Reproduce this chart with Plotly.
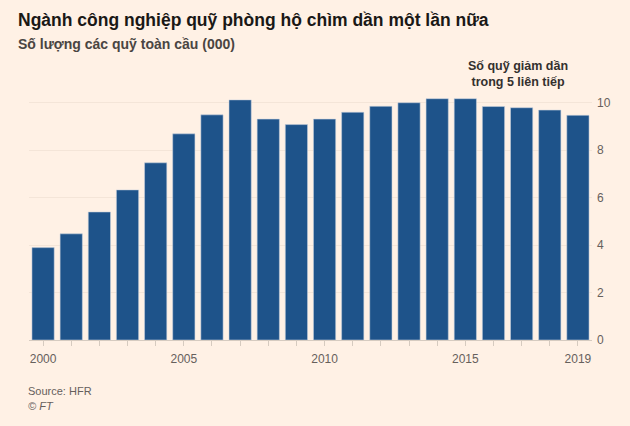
import plotly.graph_objects as go

YEARS = list(range(2000, 2020))
FUNDS_000 = [3.89, 4.47, 5.39, 6.32, 7.46, 8.68, 9.48, 10.11, 9.30, 9.07,
             9.30, 9.59, 9.84, 9.99, 10.16, 10.16, 9.83, 9.78, 9.68, 9.46]
X_LABELED = [2000, 2005, 2010, 2015, 2019]
Y_TICKS = [0, 2, 4, 6, 8, 10]

BG = "#fff1e5"
BAR = "#1e538a"
GRID = "#f4e5d8"
TXT = "#33302e"
MUTED = "#66605c"
FONT = "Liberation Sans, Arial, sans-serif"

fig = go.Figure(go.Bar(
    x=YEARS, y=FUNDS_000, marker_color=BAR,
    marker_line=dict(color="rgba(200,210,222,0.55)", width=1),
    hovertemplate="%{x}: %{y}<extra></extra>"))

fig.update_layout(
    width=630, height=426, paper_bgcolor=BG, plot_bgcolor=BG,
    font=dict(family=FONT, color=MUTED, size=12),
    margin=dict(t=93, b=86, l=29, r=38), bargap=0.21, showlegend=False,
    xaxis=dict(range=[1999.5, 2019.5], tickvals=YEARS,
               ticktext=[str(y) if y in X_LABELED else "" for y in YEARS],
               ticks="outside", ticklen=5, tickcolor="#d6cbc0",
               showline=True, linecolor="#d6cbc0", linewidth=1,
               showgrid=False, zeroline=False, ticklabelstandoff=3,
               tickfont=dict(size=12, color=MUTED)),
    yaxis=dict(range=[0, 10.4], side="right", tickvals=Y_TICKS,
               gridcolor=GRID, gridwidth=1, zeroline=False, showline=False,
               ticks="", ticklabelstandoff=4, tickfont=dict(size=12, color=MUTED)),
)

# text blocks placed relative to the plot area edges (plot top = 93px, left = 29px)
fig.add_annotation(text="<b>Ngành công nghiệp quỹ phòng hộ chìm dần một lần nữa</b>",
                   xref="paper", yref="paper", x=0, y=1, xanchor="left", yanchor="middle",
                   xshift=-13, yshift=93 - 20, showarrow=False,
                   font=dict(size=17.5, color="#1a1816", family=FONT))
fig.add_annotation(text="Số lượng các quỹ toàn cầu (000)",
                   xref="paper", yref="paper", x=0, y=1, xanchor="left", yanchor="middle",
                   xshift=-13, yshift=93 - 44, showarrow=False,
                   font=dict(size=14, color="#4a4542", family=FONT, weight=600))
fig.add_annotation(text="Số quỹ giảm dần<br>trong 5 liên tiếp",
                   xref="paper", yref="paper", x=1, y=1, xanchor="center", yanchor="middle",
                   xshift=518 - 592, yshift=93 - 74, showarrow=False, align="center",
                   font=dict(size=12.5, color=TXT, family=FONT, weight=600))
fig.add_annotation(text="Source: HFR",
                   xref="paper", yref="paper", x=0, y=0, xanchor="left", yanchor="middle",
                   xshift=-3, yshift=-(391 - 340), showarrow=False,
                   font=dict(size=11, color=MUTED, family=FONT))
fig.add_annotation(text="<i>© FT</i>",
                   xref="paper", yref="paper", x=0, y=0, xanchor="left", yanchor="middle",
                   xshift=-3, yshift=-(406 - 340), showarrow=False,
                   font=dict(size=11, color=MUTED, family=FONT))

fig.write_html("out.html", config={"displayModeBar": False},
               post_script="document.body.style.margin='0';")
